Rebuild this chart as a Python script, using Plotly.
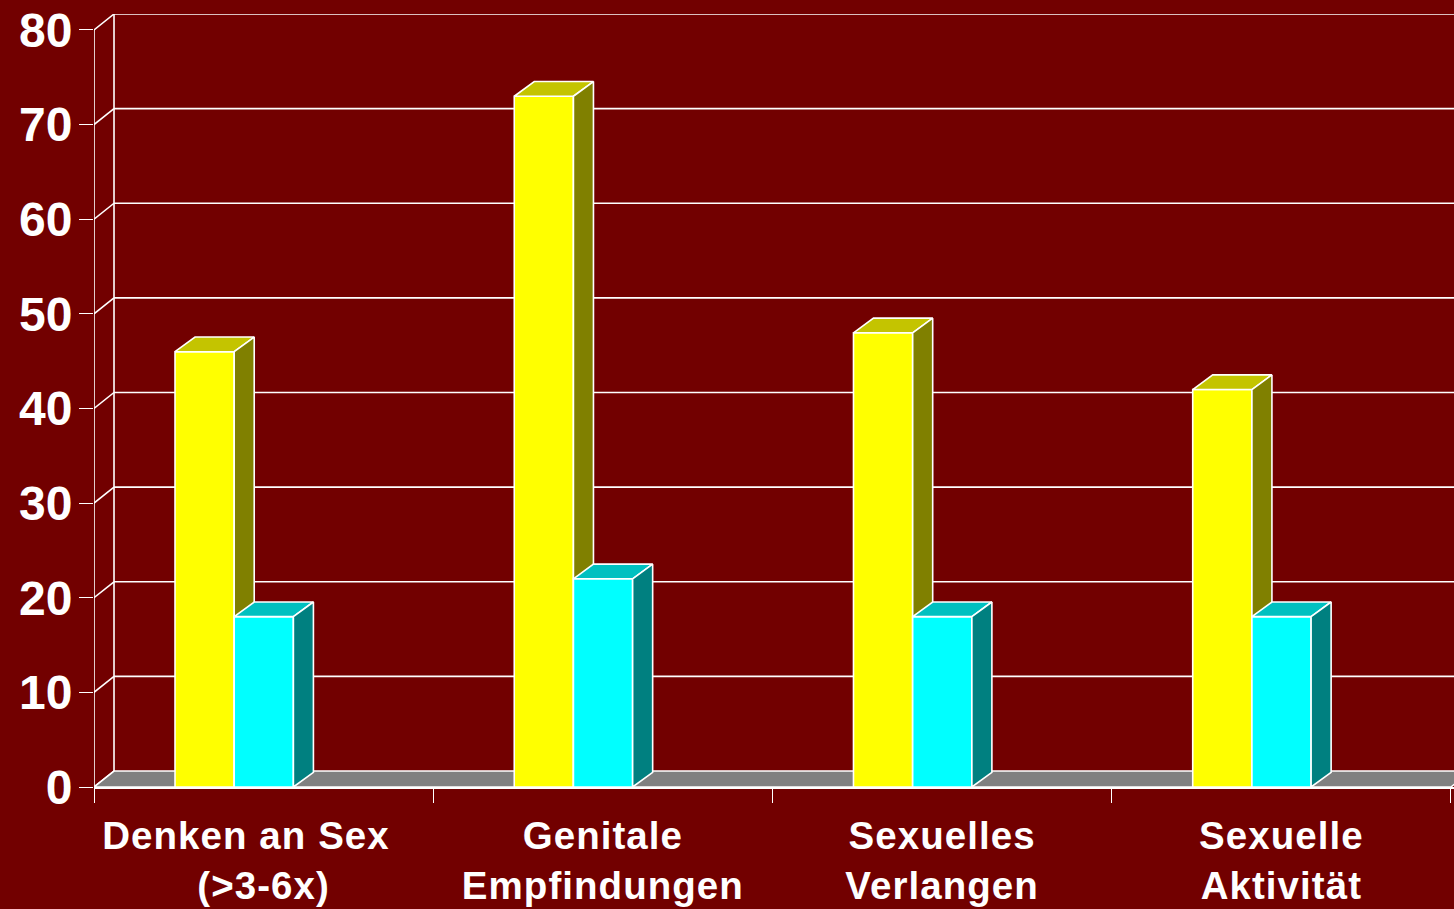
import plotly.graph_objects as go

categories = ["Denken an Sex\u00a0\u00a0\u00a0<br>(>3-6x)", "Genitale<br>Empfindungen",
              "Sexuelles<br>Verlangen", "Sexuelle<br>Aktivität"]
yellow_values = [46, 73, 48, 42]
cyan_values = [18, 22, 18, 18]
y_ticks = [0, 10, 20, 30, 40, 50, 60, 70, 80]
x_pos = [0, 1, 2, 3]
boundaries = [-0.5, 0.5, 1.5, 2.5, 3.5]

BG = "#720000"
WHITE = "#FFFFFF"
FONT = "Liberation Sans"
LW = 1.6

# projection depth, in axis units
WALL_DX, WALL_DY = 0.059, 1.69
BAR_DX, BAR_DY = 0.059, 1.55
BAR_W = 0.1745
X_RANGE = [-0.5, 3.509]
Y_RANGE = [0, 81.69]


def poly(xs, ys, fill, ax):
    return go.Scatter(x=xs + xs[:1], y=ys + ys[:1], mode="lines", fill="toself", fillcolor=fill,
                      line=dict(color=WHITE, width=LW), hoverinfo="skip", showlegend=False,
                      xaxis=ax[0], yaxis=ax[1])


def bar_series(values, offset, front, top, side, ax, name):
    out = [go.Bar(x=x_pos, y=values, width=BAR_W, offset=offset, name=name, showlegend=False,
                  marker=dict(color=front, line=dict(color=WHITE, width=LW)),
                  xaxis=ax[0], yaxis=ax[1])]
    for x, v in zip(x_pos, values):
        l, r = x + offset, x + offset + BAR_W
        out.append(poly([l, r, r + BAR_DX, l + BAR_DX], [v, v, v + BAR_DY, v + BAR_DY], top, ax))
        out.append(poly([r, r + BAR_DX, r + BAR_DX, r], [0, BAR_DY, v + BAR_DY, v], side, ax))
    return out


fig = go.Figure()

# floor (base subplot)
x0, x1 = boundaries[0], boundaries[-1]
fig.add_trace(poly([x0, x1, x1 + WALL_DX, x0 + WALL_DX], [0, 0, WALL_DY, WALL_DY], "#808080", ("x", "y")))

# walls: grid lines on the back wall, diagonals on the side wall
for t in y_ticks[1:]:
    fig.add_shape(type="line", layer="below", xref="x", yref="y", x0=x0 + WALL_DX, x1=X_RANGE[1],
                  y0=t + WALL_DY, y1=t + WALL_DY, line=dict(color=WHITE, width=LW))
for t in y_ticks:
    fig.add_shape(type="line", layer="below", xref="x", yref="y", x0=x0, x1=x0 + WALL_DX,
                  y0=t, y1=t + WALL_DY, line=dict(color=WHITE, width=LW))
fig.add_shape(type="line", layer="below", xref="x", yref="y", x0=x0, x1=x0, y0=0, y1=y_ticks[-1],
              line=dict(color=WHITE, width=LW))
fig.add_shape(type="line", layer="below", xref="x", yref="y", x0=x0 + WALL_DX, x1=x0 + WALL_DX,
              y0=WALL_DY, y1=y_ticks[-1] + WALL_DY, line=dict(color=WHITE, width=LW))

for tr in bar_series(yellow_values, -0.2612, "#FFFF00", "#C4C400", "#808000", ("x2", "y2"), "Serie 1"):
    fig.add_trace(tr)
for tr in bar_series(cyan_values, -0.0867, "#00FFFF", "#00C0C0", "#008080", ("x3", "y3"), "Serie 2"):
    fig.add_trace(tr)

hidden = dict(visible=False, fixedrange=True)
fig.update_layout(
    width=1454, height=909,
    margin=dict(l=94, r=0, t=14, b=122, pad=0),
    paper_bgcolor=BG, plot_bgcolor=BG,
    showlegend=False,
    barmode="overlay",
    xaxis=dict(range=X_RANGE, tickmode="array", tickvals=x_pos, ticktext=categories, ticks="",
               showgrid=False, zeroline=False, showline=True, linecolor=WHITE, linewidth=2,
               ticklabelstandoff=14,
               tickfont=dict(family=FONT, size=38.5, color=WHITE, weight="bold"),
               minor=dict(tickmode="array", tickvals=boundaries, ticks="outside", ticklen=14,
                          tickcolor=WHITE, tickwidth=1.4, showgrid=False)),
    yaxis=dict(range=Y_RANGE, tickmode="array", tickvals=y_ticks, ticks="outside", ticklen=14,
               tickcolor=WHITE, tickwidth=1.4, showgrid=False, zeroline=False, showline=False,
               ticklabelstandoff=-3,
               tickfont=dict(family=FONT, size=48, color=WHITE, weight="bold")),
    xaxis2=dict(range=X_RANGE, overlaying="x", anchor="y2", **hidden),
    yaxis2=dict(range=Y_RANGE, overlaying="y", anchor="x2", **hidden),
    xaxis3=dict(range=X_RANGE, overlaying="x", anchor="y3", **hidden),
    yaxis3=dict(range=Y_RANGE, overlaying="y", anchor="x3", **hidden),
)

post = """
document.body.style.margin='0';
document.body.style.background='%s';
var spaceLabels=function(){document.querySelectorAll('.xtick text').forEach(function(t){t.style.letterSpacing='1.05px';});};
document.getElementById('{plot_id}').on('plotly_afterplot',spaceLabels);
spaceLabels();setTimeout(spaceLabels,50);
""" % BG
fig.write_html("out.html", config={"displayModeBar": False}, post_script=post)
